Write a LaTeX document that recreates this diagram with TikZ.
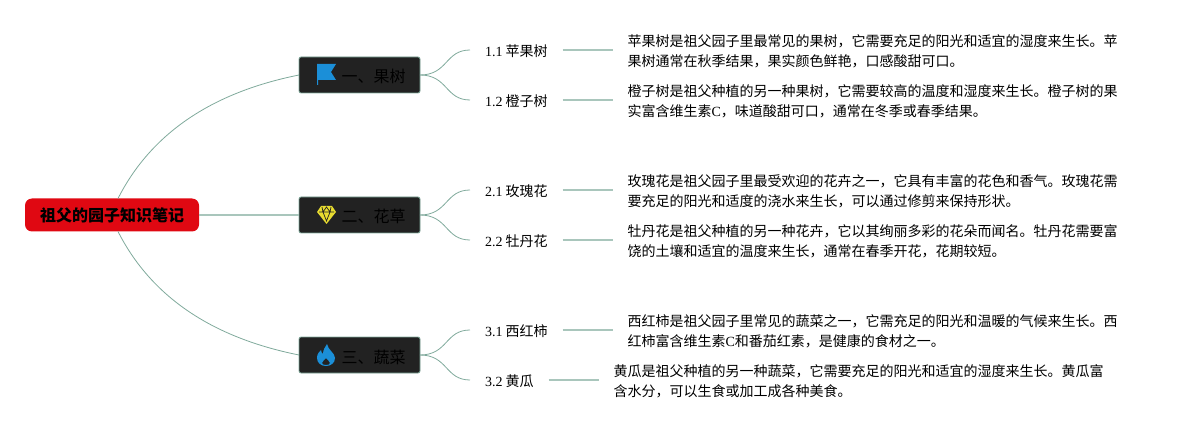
\documentclass[tikz,border=0pt]{standalone}
\usepackage{fontspec}
\setmainfont{Liberation Serif}
\newfontfamily\cjk{Noto Sans CJK SC}
\usetikzlibrary{positioning}
\newcommand{\lat}[1]{{\rmfamily #1}}
\definecolor{linegreen}{HTML}{7FA99B}
\definecolor{stemgreen}{HTML}{A9C6BC}
\definecolor{rootred}{HTML}{E00812}
\definecolor{iconblue}{HTML}{1B8FD8}
\definecolor{iconyellow}{HTML}{E8DC30}
\definecolor{boxdark}{HTML}{222222}
\begin{document}
\begin{tikzpicture}[
x=1pt, y=1pt, every node/.style={outer sep=0pt},
root/.style={rectangle, rounded corners=7pt, fill=rootred, minimum width=174pt, minimum height=33pt, inner sep=0pt, font=\fontsize{16}{18}\selectfont\cjk\bfseries},
branch/.style={rectangle, rounded corners=2pt, draw=linegreen, line width=0.8pt, fill=boxdark, minimum width=121pt, minimum height=36pt, inner sep=0pt, text height=16pt, text depth=0pt, font=\fontsize{16}{18}\selectfont\cjk},
leaf/.style={rectangle, inner xsep=15pt, inner ysep=2pt, text height=12.6pt, text depth=0pt, font=\fontsize{14}{18}\selectfont\cjk},
detail/.style={rectangle, inner xsep=15pt, inner ysep=0pt, yshift=-1pt, align=left, font=\fontsize{14}{20}\selectfont\cjk},
curve/.style={draw=linegreen, line width=0.8pt},
stem/.style={draw=stemgreen, line width=1.2pt}
]
\useasboundingbox (0,0) rectangle (1188,-430);

%Nodes
\node[root] (root) at (112,-215) {祖父的园子知识笔记};
\node[branch] (fruit) at (359.5,-75) {\hspace{28pt}一、果树};
\node[branch] (flower) [below=104pt of fruit] {\hspace{28pt}二、花草};
\node[branch] (veg) [below=104pt of flower] {\hspace{28pt}三、蔬菜};

\node[leaf] (apple) [right=50pt of fruit, yshift=25pt] {\lat{1.1} 苹果树};
\node[leaf] (orange) [right=50pt of fruit, yshift=-25pt] {\lat{1.2} 橙子树};
\node[leaf] (rose) [right=50pt of flower, yshift=25pt] {\lat{2.1} 玫瑰花};
\node[leaf] (peony) [right=50pt of flower, yshift=-25pt] {\lat{2.2} 牡丹花};
\node[leaf] (tomato) [right=50pt of veg, yshift=25pt] {\lat{3.1} 西红柿};
\node[leaf] (cucumber) [right=50pt of veg, yshift=-25pt] {\lat{3.2} 黄瓜};

\node[detail] (apple_text) [right=50pt of apple] {苹果树是祖父园子里最常见的果树，它需要充足的阳光和适宜的湿度来生长。苹\\果树通常在秋季结果，果实颜色鲜艳，口感酸甜可口。};
\node[detail] (orange_text) [right=50pt of orange] {橙子树是祖父种植的另一种果树，它需要较高的温度和湿度来生长。橙子树的果\\实富含维生素\lat{C}，味道酸甜可口，通常在冬季或春季结果。};
\node[detail] (rose_text) [right=50pt of rose] {玫瑰花是祖父园子里最受欢迎的花卉之一，它具有丰富的花色和香气。玫瑰花需\\要充足的阳光和适度的浇水来生长，可以通过修剪来保持形状。};
\node[detail] (peony_text) [right=50pt of peony] {牡丹花是祖父种植的另一种花卉，它以其绚丽多彩的花朵而闻名。牡丹花需要富\\饶的土壤和适宜的温度来生长，通常在春季开花，花期较短。};
\node[detail] (tomato_text) [right=50pt of tomato] {西红柿是祖父园子里常见的蔬菜之一，它需充足的阳光和温暖的气候来生长。西\\红柿富含维生素\lat{C}和番茄红素，是健康的食材之一。};
\node[detail] (cucumber_text) [right=50pt of cucumber] {黄瓜是祖父种植的另一种蔬菜，它需要充足的阳光和适宜的湿度来生长。黄瓜富\\含水分，可以生食或加工成各种美食。};

%Icons
\begin{scope}[shift={(fruit.west)}]
\fill[iconblue] (18,11) -- (37,11) -- (32,3) -- (37,-5) -- (19,-5) -- (19,-10) -- (18,-10) -- cycle;
\end{scope}
\begin{scope}[shift={(flower.west)}]
\fill[iconyellow] (22,9) -- (33,9) -- (37,3) -- (27.5,-9) -- (18,3) -- cycle;
\draw[boxdark, line width=0.7pt] (20,3) -- (35,3) (23,8) -- (24,3) -- (27.5,-6) -- (31,3) -- (32,8) (24,3) -- (27.5,8) -- (31,3);
\end{scope}
\begin{scope}[shift={(veg.west)}]
\fill[iconblue, even odd rule] (28,11) .. controls (29,5) and (36,2) .. (36,-3) .. controls (36,-8) and (32,-11) .. (27,-11) .. controls (22,-11) and (18,-8) .. (18,-3) .. controls (18,1) and (20,3) .. (22,5) .. controls (22,3) and (23,2) .. (24,1) .. controls (24,5) and (26,8) .. (28,11) -- cycle
(27,-3) .. controls (26,-5) and (23,-6) .. (23,-8) .. controls (23,-9.5) and (25,-10) .. (27,-10) .. controls (29,-10) and (31,-9.5) .. (31,-8) .. controls (31,-6) and (28,-5) .. (27,-3) -- cycle;
\end{scope}

%Connections
\draw[curve] ([xshift=6pt]root.north) .. controls +(32,63) and +(-90,-18) .. (fruit.west);
\draw[stem] (root.east) -- (flower.west);
\draw[curve] ([xshift=6pt]root.south) .. controls +(32,-63) and +(-90,18) .. (veg.west);

\draw[curve] (fruit.east) .. controls +(28,0) and +(-25,0) .. (apple.west);
\draw[curve] (fruit.east) .. controls +(28,0) and +(-25,0) .. (orange.west);
\draw[curve] (flower.east) .. controls +(28,0) and +(-25,0) .. (rose.west);
\draw[curve] (flower.east) .. controls +(28,0) and +(-25,0) .. (peony.west);
\draw[curve] (veg.east) .. controls +(28,0) and +(-25,0) .. (tomato.west);
\draw[curve] (veg.east) .. controls +(28,0) and +(-25,0) .. (cucumber.west);

\draw[stem] (apple.east) -- (apple.east -| apple_text.west);
\draw[stem] (orange.east) -- (orange.east -| orange_text.west);
\draw[stem] (rose.east) -- (rose.east -| rose_text.west);
\draw[stem] (peony.east) -- (peony.east -| peony_text.west);
\draw[stem] (tomato.east) -- (tomato.east -| tomato_text.west);
\draw[stem] (cucumber.east) -- (cucumber.east -| cucumber_text.west);
\end{tikzpicture}
\end{document}
